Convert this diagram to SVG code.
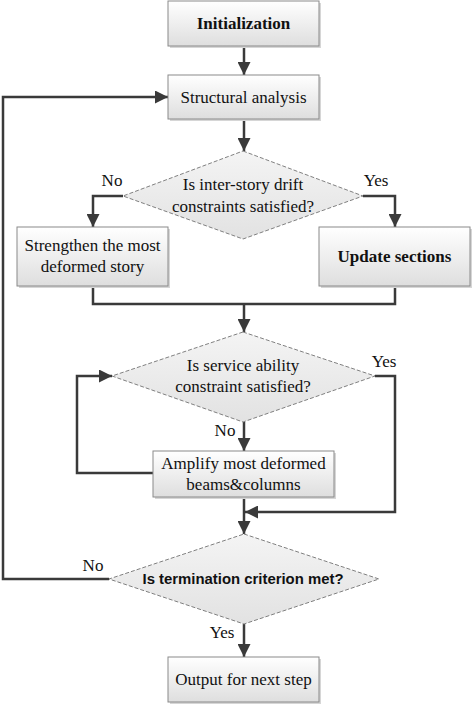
<svg xmlns="http://www.w3.org/2000/svg" width="474" height="704" viewBox="0 0 474 704">
<defs>
<linearGradient id="boxg" x1="0" y1="0" x2="0" y2="1">
<stop offset="0" stop-color="#ffffff"/>
<stop offset="1" stop-color="#dedede"/>
</linearGradient>
<linearGradient id="diag" x1="0" y1="0" x2="0" y2="1">
<stop offset="0" stop-color="#f4f4f4"/>
<stop offset="1" stop-color="#e2e2e2"/>
</linearGradient>
<marker id="ah" viewBox="0 0 12 12" refX="12" refY="6" markerWidth="13" markerHeight="13" markerUnits="userSpaceOnUse" orient="auto">
<path d="M0,0 L12,6 L0,12 z" fill="#3a3a3a"/>
</marker>
</defs>
<style>
.box{fill:url(#boxg);stroke:#8a8a8a;stroke-width:1}
.shadow{fill:#d6d6d6}
.dia{fill:url(#diag);stroke:#808080;stroke-width:1;stroke-dasharray:4 2}
.t{font-family:"Liberation Serif","Times New Roman",serif;font-size:17px;fill:#111;text-anchor:middle}
.b{font-weight:bold}
.s{font-family:"Liberation Sans",Arial,sans-serif;font-size:14px;font-weight:bold;fill:#111;text-anchor:middle}
.c{fill:none;stroke:#3a3a3a;stroke-width:2.5}
.l{font-family:"Liberation Serif","Times New Roman",serif;font-size:17px;fill:#111;text-anchor:middle}
</style>
<rect width="474" height="704" fill="#ffffff"/>

<g id="connectors">
<path class="c" d="M244,46 V75" marker-end="url(#ah)"/>
<path class="c" d="M244,119 V151" marker-end="url(#ah)"/>
<path class="c" d="M123,196 H93 V227" marker-end="url(#ah)"/>
<path class="c" d="M363,196 H395 V227" marker-end="url(#ah)"/>
<path class="c" d="M93,286 V304 H395 V286"/>
<path class="c" d="M244,304 V332" marker-end="url(#ah)"/>
<path class="c" d="M244,422 V451" marker-end="url(#ah)"/>
<path class="c" d="M153,473 H77 V376 H112" marker-end="url(#ah)"/>
<path class="c" d="M375,376 H395 V512 H245" marker-end="url(#ah)"/>
<path class="c" d="M244,497 V534" marker-end="url(#ah)"/>
<path class="c" d="M109,579 H3 V97 H168" marker-end="url(#ah)"/>
<path class="c" d="M244,624 V657" marker-end="url(#ah)"/>
</g>

<g id="initialization">
<rect class="shadow" x="170" y="3" width="151" height="45"/>
<rect class="box" x="168" y="1" width="151" height="45"/>
<text class="t b" x="243.5" y="29">Initialization</text>
</g>

<g id="structural-analysis">
<rect class="shadow" x="170" y="77" width="151" height="44"/>
<rect class="box" x="168" y="75" width="151" height="44"/>
<text class="t" x="243.5" y="103">Structural analysis</text>
</g>

<g id="drift-check">
<polygon class="dia" points="243,151 363,196 243,239 123,196"/>
<text class="t" x="243" y="190">Is inter-story drift</text>
<text class="t" x="243" y="212">constraints satisfied?</text>
<text class="l" x="112" y="186">No</text>
<text class="l" x="376" y="186">Yes</text>
</g>

<g id="strengthen">
<rect class="shadow" x="19" y="229" width="151" height="59"/>
<rect class="box" x="17" y="227" width="151" height="59"/>
<text class="t" x="92.5" y="251">Strengthen the most</text>
<text class="t" x="92.5" y="272">deformed story</text>
</g>

<g id="update-sections">
<rect class="shadow" x="321" y="229" width="151" height="59"/>
<rect class="box" x="319" y="227" width="151" height="59"/>
<text class="t b" x="394.5" y="262">Update sections</text>
</g>

<g id="serviceability-check">
<polygon class="dia" points="243,332 375,376 243,422 112,376"/>
<text class="t" x="243" y="371">Is service ability</text>
<text class="t" x="243" y="392">constraint satisfied?</text>
<text class="l" x="384" y="367">Yes</text>
<text class="l" x="225" y="436">No</text>
</g>

<g id="amplify">
<rect class="shadow" x="155" y="453" width="181" height="46"/>
<rect class="box" x="153" y="451" width="181" height="46"/>
<text class="t" x="243.5" y="469">Amplify most deformed</text>
<text class="t" x="243.5" y="490">beams&amp;columns</text>
</g>

<g id="termination-check">
<polygon class="dia" points="244,534 379,579 244,624 109,579"/>
<text class="s" x="243" y="584" textLength="201" lengthAdjust="spacingAndGlyphs">Is termination criterion met?</text>
<text class="l" x="93" y="571">No</text>
<text class="l" x="222" y="638">Yes</text>
</g>

<g id="output">
<rect class="shadow" x="170" y="659" width="151" height="45"/>
<rect class="box" x="168" y="657" width="151" height="45"/>
<text class="t" x="243.5" y="685">Output for next step</text>
</g>
</svg>
